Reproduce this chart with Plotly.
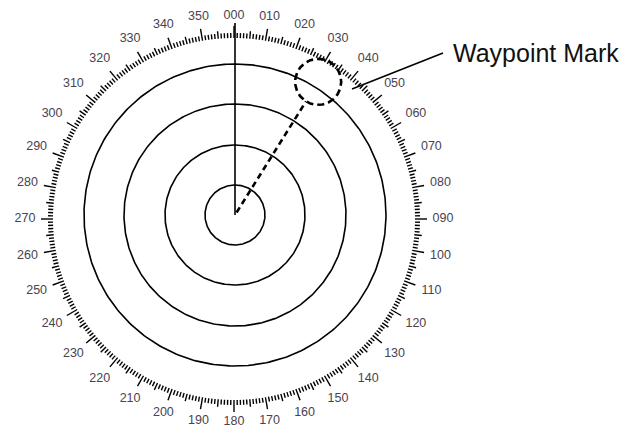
import numpy as np
import plotly.graph_objects as go

# ---- data ----
bearing_labels = [f"{b:03d}" for b in range(0, 360, 10)]
label_bearings = list(range(0, 360, 10))
ring_ranges = [30, 70, 111, 151]
heading_bearing = 0
heading_length = 192
waypoint_bearing = 32
waypoint_range = 157
waypoint_radius = 23
callout_text = "Waypoint Mark"

# ---- geometry (pixel-like plot units, y downward) ----
CX, CY = 235, 215          # ring centre
SX, SY = 234, 219          # bearing-scale centre
R_SCALE = 181
PAGE_MARGIN = 8            # default HTML body margin

def pol(cx, cy, bearing, r):
    t = np.radians(bearing)
    return cx + r * np.sin(t), cy - r * np.cos(t)

fig = go.Figure()

# range rings
th = np.linspace(0, 360, 361)
for r in ring_ranges:
    x, y = pol(CX, CY, th, r)
    fig.add_trace(go.Scatter(x=x, y=y, mode="lines", line=dict(color="black", width=1.6),
                             hoverinfo="skip", showlegend=False))

# bearing scale ticks
tx, ty = [], []
for b in range(360):
    L = 12 if b % 10 == 0 else (7.5 if b % 5 == 0 else 5)
    x0, y0 = pol(SX, SY, b, R_SCALE)
    x1, y1 = pol(SX, SY, b, R_SCALE + L)
    tx += [x0, x1, None]
    ty += [y0, y1, None]
fig.add_trace(go.Scatter(x=tx, y=ty, mode="lines", line=dict(color="black", width=1.4),
                         hoverinfo="skip", showlegend=False))

# bearing labels
lx, ly = [], []
for b in label_bearings:
    t = np.radians(b)
    r = 198 + 11 * abs(np.sin(t)) + 5 * abs(np.cos(t))
    x, y = pol(SX, SY, b, r)
    lx.append(x)
    ly.append(y)
fig.add_trace(go.Scatter(x=lx, y=ly, mode="text", text=bearing_labels,
                         textposition="middle center",
                         textfont=dict(family="Liberation Sans, Arial", size=12.5, color="#4a4250"),
                         hoverinfo="skip", showlegend=False))

# heading line
hx, hy = pol(CX, CY, np.array([heading_bearing, heading_bearing]), np.array([0, heading_length]))
fig.add_trace(go.Scatter(x=hx, y=hy, mode="lines", line=dict(color="black", width=1.6),
                         hoverinfo="skip", showlegend=False))

# dashed line to waypoint
dx, dy = pol(CX, CY, np.array([waypoint_bearing, waypoint_bearing]),
             np.array([3, waypoint_range - waypoint_radius]))
fig.add_trace(go.Scatter(x=dx, y=dy, mode="lines",
                         line=dict(color="black", width=2.6, dash="6px,4px"),
                         hoverinfo="skip", showlegend=False))

# waypoint mark (dashed circle)
wcx, wcy = pol(CX, CY, waypoint_bearing, waypoint_range)
cx_, cy_ = pol(wcx, wcy, th, waypoint_radius)
fig.add_trace(go.Scatter(x=cx_, y=cy_, mode="lines",
                         line=dict(color="black", width=2.6, dash="7px,4px"),
                         hoverinfo="skip", showlegend=False))

# callout leader
fig.add_trace(go.Scatter(x=[352, 443], y=[89, 53], mode="lines",
                         line=dict(color="black", width=1.5),
                         hoverinfo="skip", showlegend=False))
fig.add_annotation(x=451, y=53, text=callout_text, showarrow=False, xanchor="left",
                   yanchor="middle", font=dict(family="Liberation Sans, Arial", size=25, color="#111111"))

W, H = 632, 427
fig.update_xaxes(range=[PAGE_MARGIN, W], visible=False, fixedrange=True)
fig.update_yaxes(range=[H, PAGE_MARGIN], visible=False, fixedrange=True)
fig.update_layout(width=W - PAGE_MARGIN, height=H - PAGE_MARGIN,
                  margin=dict(l=0, r=0, t=0, b=0),
                  plot_bgcolor="white", paper_bgcolor="white", showlegend=False)

fig.write_html("out.html")
